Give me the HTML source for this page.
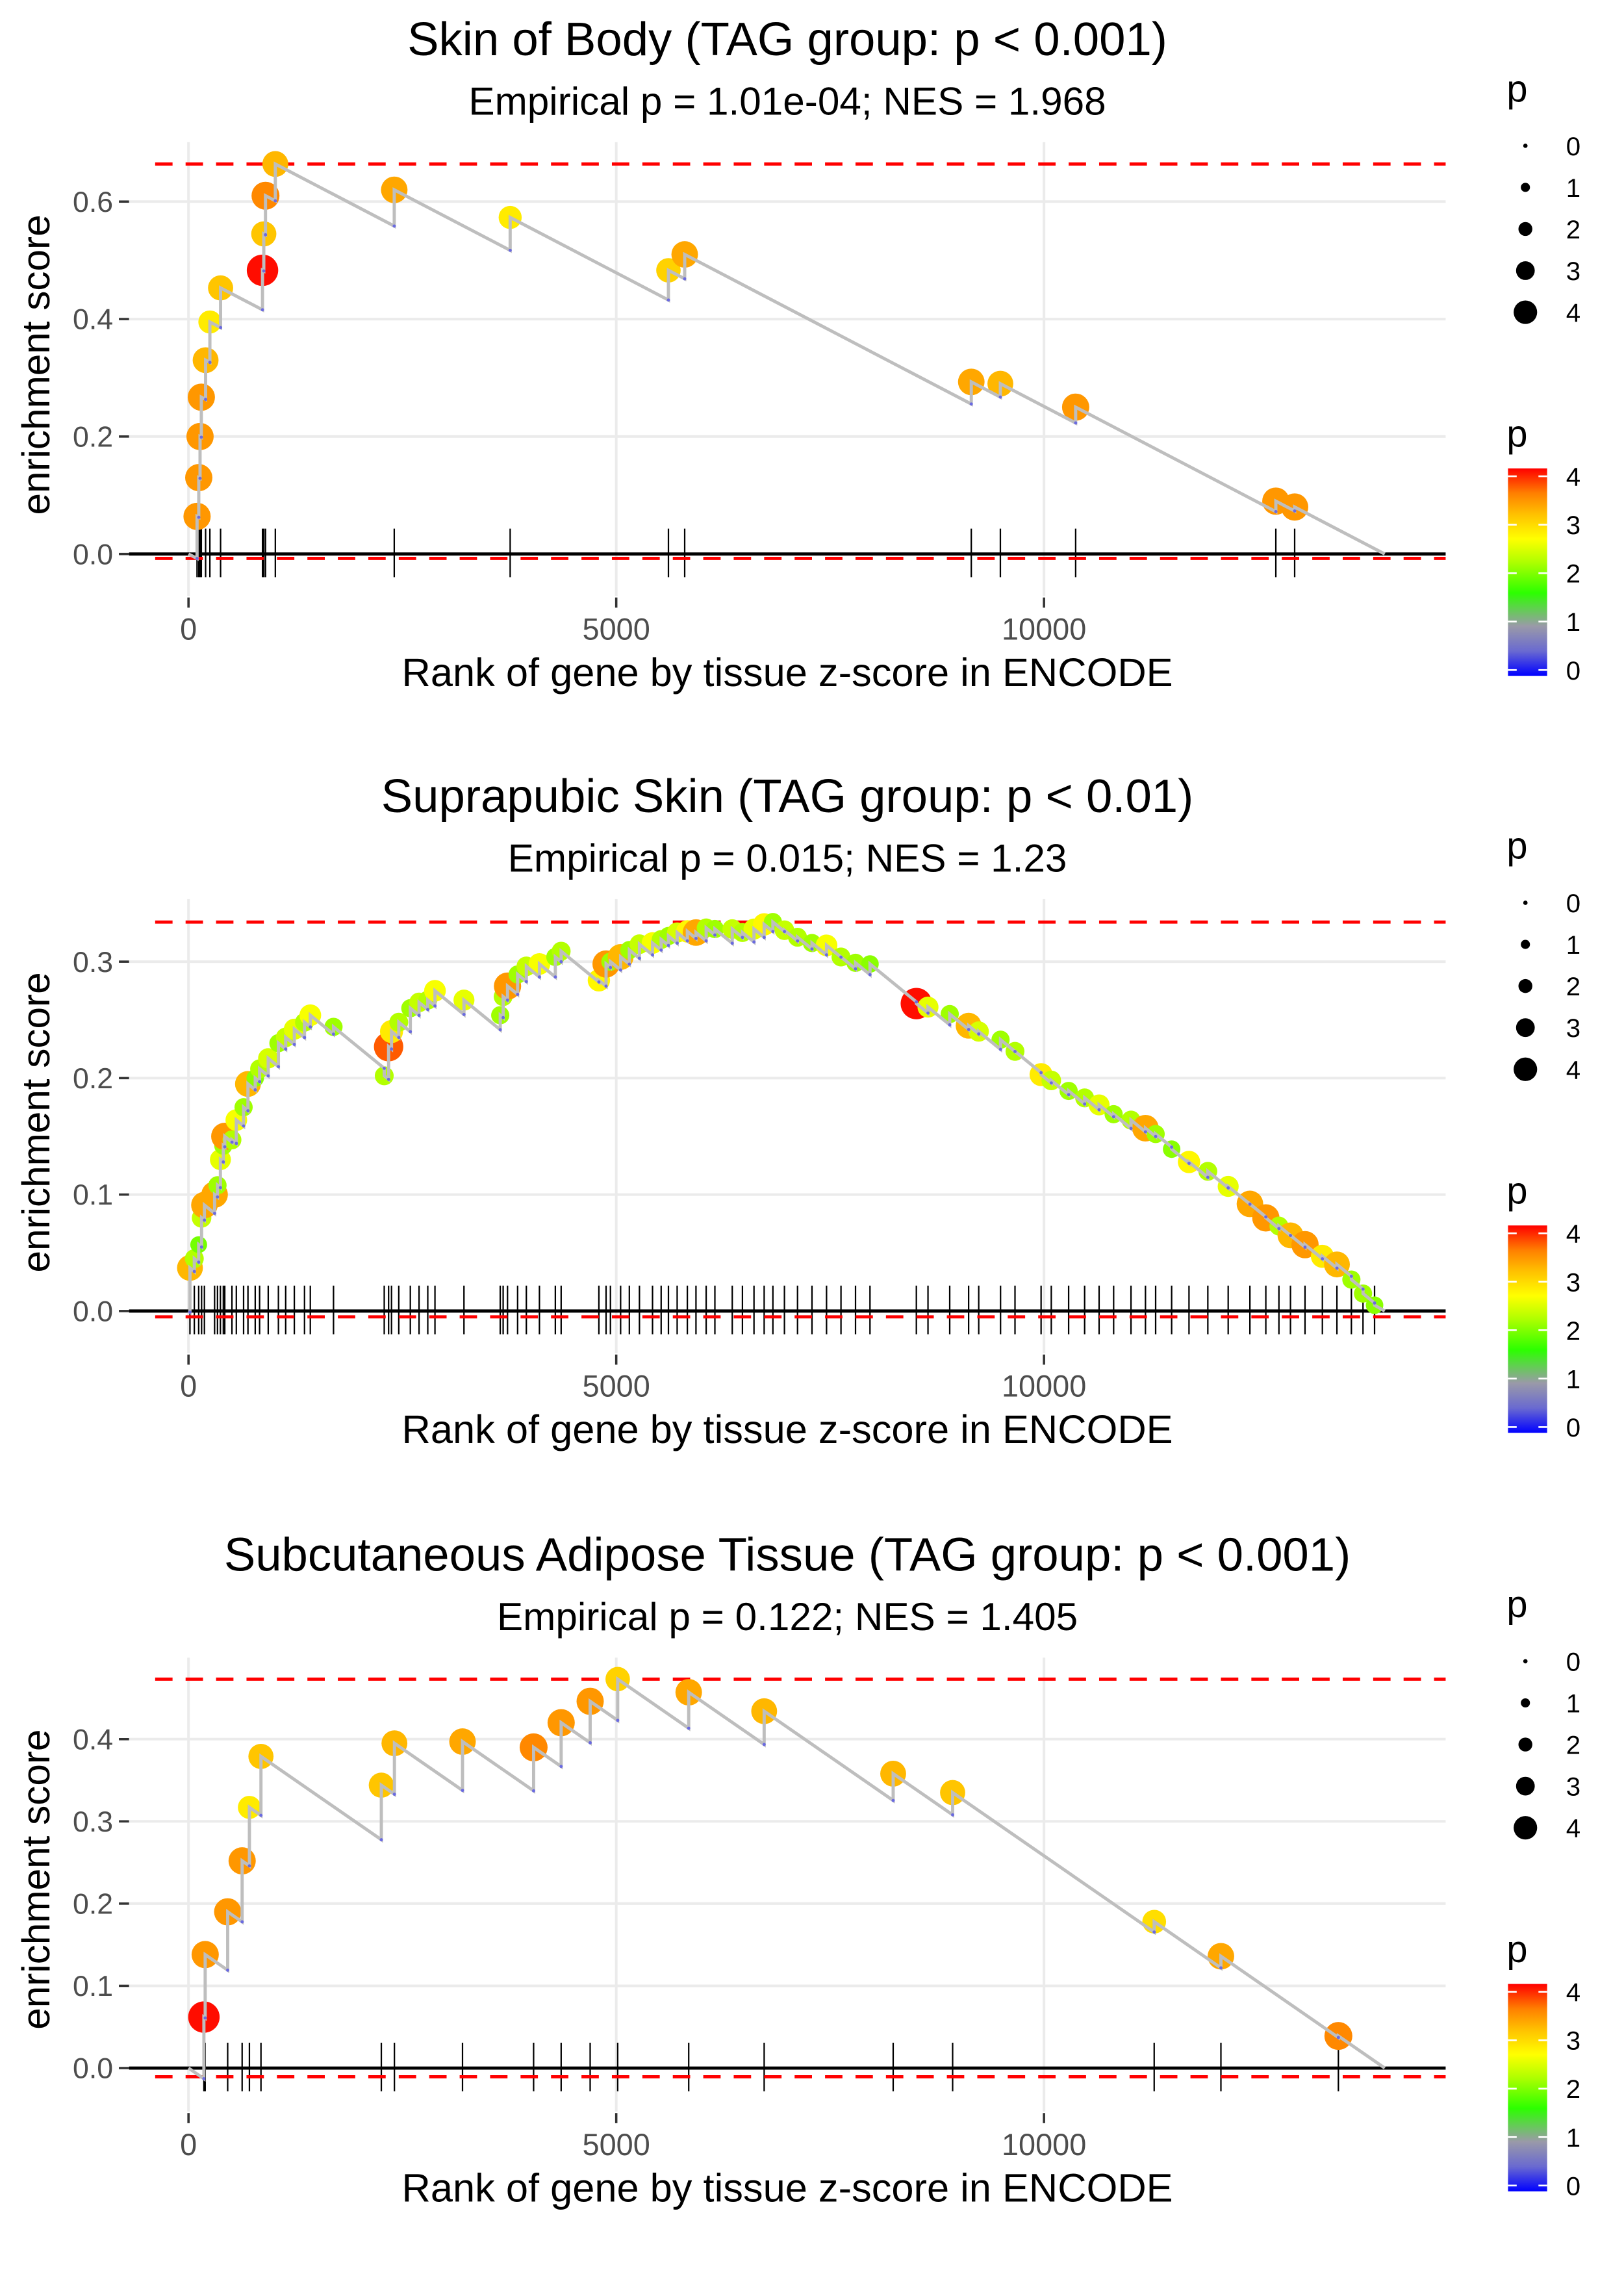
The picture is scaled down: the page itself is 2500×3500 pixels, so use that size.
<!DOCTYPE html>
<html><head><meta charset="utf-8">
<style>
html,body{margin:0;padding:0;background:#fff;}
svg{display:block;font-family:"Liberation Sans",Arial,sans-serif;}
</style></head>
<body>
<svg id="chart" width="2500" height="3500" viewBox="0 0 1120 1568" preserveAspectRatio="none" xmlns="http://www.w3.org/2000/svg">
<defs>
<linearGradient id="pgrad" x1="0" y1="1" x2="0" y2="0">
<stop offset="0" stop-color="#0000ff"/>
<stop offset="0.12" stop-color="#6a6ad0"/>
<stop offset="0.24" stop-color="#9a9aa8"/>
<stop offset="0.4" stop-color="#2cff00"/>
<stop offset="0.55" stop-color="#b0ff00"/>
<stop offset="0.66" stop-color="#ffff00"/>
<stop offset="0.78" stop-color="#ffc000"/>
<stop offset="0.88" stop-color="#ff8000"/>
<stop offset="1" stop-color="#ff0000"/>
</linearGradient>
</defs>
</svg>
<script>
// ---- Panel 1: Skin of Body ----
const p1Ranks = [100,120,135,150,200,250,375,865,880,900,1015,2405,3760,5610,5800,9150,9490,10370,12710,12930];
const p1ES    = [0.064,0.13,0.2,0.267,0.33,0.395,0.453,0.483,0.545,0.61,0.664,0.62,0.573,0.483,0.51,0.293,0.29,0.25,0.09,0.08];
const p1P     = [3.5,3.5,3.5,3.5,3.3,2.9,3.2,4.1,3.2,3.6,3.3,3.4,2.9,3.1,3.4,3.4,3.3,3.5,3.5,3.5];
// ---- Panel 2: Suprapubic Skin ----
const p2Ranks = [17,68,119,153,186,305,339,373,407,424,508,559,644,695,780,831,932,1051,1136,1237,1356,1424,1695,2288,2339,2373,2458,2593,2695,2797,2881,3220,3644,3678,3729,3847,3949,4102,4288,4356,4797,4881,4932,5051,5153,5271,5424,5525,5610,5712,5831,5932,6051,6153,6356,6475,6610,6729,6831,6966,7119,7288,7458,7627,7797,7966,8508,8644,8898,9119,9237,9492,9661,9966,10085,10288,10475,10644,10814,11017,11186,11305,11492,11695,11915,12153,12407,12593,12746,12881,13051,13254,13424,13593,13729,13864];
const p2ES    = [0.037,0.045,0.057,0.08,0.091,0.1,0.108,0.13,0.142,0.15,0.147,0.164,0.175,0.195,0.2,0.208,0.217,0.23,0.235,0.242,0.248,0.254,0.244,0.202,0.227,0.24,0.248,0.26,0.265,0.267,0.275,0.267,0.254,0.27,0.279,0.289,0.296,0.298,0.304,0.309,0.284,0.298,0.3,0.304,0.31,0.315,0.316,0.319,0.322,0.325,0.326,0.325,0.329,0.328,0.328,0.325,0.328,0.332,0.334,0.327,0.321,0.316,0.314,0.304,0.299,0.298,0.264,0.261,0.255,0.245,0.24,0.233,0.223,0.203,0.198,0.189,0.183,0.177,0.169,0.164,0.157,0.152,0.139,0.128,0.12,0.107,0.092,0.08,0.073,0.065,0.057,0.047,0.04,0.027,0.015,0.005];
const p2P     = [3.3,2.3,2.0,2.4,3.4,3.4,2.2,2.6,2.2,3.5,2.3,2.7,2.2,3.3,2.1,2.3,2.5,2.2,2.4,2.6,2.3,2.7,2.2,2.3,3.8,2.9,2.3,2.2,2.4,2.3,2.7,2.6,2.2,2.3,3.5,2.2,2.4,2.7,2.2,2.3,2.8,3.5,2.2,3.3,2.2,2.4,2.7,2.3,2.2,2.5,2.8,3.4,2.3,2.2,2.4,2.3,2.6,2.8,2.2,2.4,2.3,2.2,2.7,2.3,2.2,2.1,4.1,2.6,2.2,3.3,2.5,2.2,2.3,2.9,2.4,2.2,2.3,2.6,2.2,2.3,3.4,2.2,2.1,2.8,2.3,2.6,3.4,3.5,2.3,3.3,3.5,2.9,3.3,2.2,2.2,2.1];
// ---- Panel 3: Subcutaneous Adipose Tissue ----
const p3Ranks = [180,195,458,627,712,847,2254,2407,3203,4034,4356,4695,5017,5847,6729,8237,8932,11288,12068,13441];
const p3ES    = [0.062,0.138,0.19,0.252,0.317,0.379,0.344,0.395,0.397,0.39,0.42,0.446,0.473,0.457,0.434,0.358,0.335,0.178,0.136,0.039];
const p3P     = [4.1,3.5,3.5,3.5,2.9,3.2,3.2,3.3,3.4,3.6,3.5,3.5,3.1,3.4,3.3,3.3,3.2,3.0,3.4,3.6];
const endRank = 13983;
const xTicks = [0,5000,10000];
const sizeLegendValues = [0,1,2,3,4];
const colorLegendValues = [0,1,2,3,4];

const NS = "http://www.w3.org/2000/svg";
const svg = document.getElementById('chart');
function mk(tag, attrs, parent){
  const e = document.createElementNS(NS, tag);
  for (const k in attrs) e.setAttribute(k, attrs[k]);
  (parent||svg).appendChild(e);
  return e;
}
function txt(s, attrs, parent){ const e = mk('text', attrs, parent); e.textContent = s; return e; }

const stops = [[0,[0,0,255]],[0.5,[106,106,208]],[1,[154,154,168]],[1.66,[44,255,0]],[2.28,[176,255,0]],[2.74,[255,255,0]],[3.24,[255,192,0]],[3.65,[255,128,0]],[4.15,[255,0,0]]];
function pColor(p){
  if (p <= stops[0][0]) return 'rgb(0,0,255)';
  for (let i=1;i<stops.length;i++){
    if (p <= stops[i][0]){
      const a=stops[i-1], b=stops[i], t=(p-a[0])/(b[0]-a[0]);
      const c=a[1].map((v,j)=>Math.round(v+(b[1][j]-v)*t));
      return 'rgb('+c.join(',')+')';
    }
  }
  return 'rgb(255,0,0)';
}
function pRadius(p){ return 1 + 2.4*p; }

const X0 = 130, XS = 0.059;
function xScale(r){ return X0 + XS*r; }

const panels = [
  {key:'skin-of-body', off:0, y0:382, ys:405, ticks:[0,0.2,0.4,0.6], ranks:p1Ranks, es:p1ES, p:p1P, d:7.6e-5, minES:-0.0075,
   title:'Skin of Body (TAG group: p < 0.001)', sub:'Empirical p = 1.01e-04; NES = 1.968'},
  {key:'suprapubic-skin', off:522, y0:904, ys:803, ticks:[0,0.1,0.2,0.3], ranks:p2Ranks, es:p2ES, p:p2P, d:6e-5, minES:-0.005,
   title:'Suprapubic Skin (TAG group: p < 0.01)', sub:'Empirical p = 0.015; NES = 1.23'},
  {key:'subcutaneous-adipose', off:1045, y0:1426, ys:567, ticks:[0,0.1,0.2,0.3,0.4], ranks:p3Ranks, es:p3ES, p:p3P, d:7.2e-5, minES:-0.0106,
   title:'Subcutaneous Adipose Tissue (TAG group: p < 0.001)', sub:'Empirical p = 0.122; NES = 1.405'}
];

panels.forEach(P=>{
  const g = mk('g', {});
  
  
  const o = P.off;
  const yS = v => P.y0 - P.ys*v;
  const t = txt(P.title, {x:543, y:38+o, 'text-anchor':'middle', 'font-size':'32.5', fill:'#000'}, g);
  
  
  const s = txt(P.sub, {x:543, y:79+o, 'text-anchor':'middle', 'font-size':'27', fill:'#000'}, g);
  
  
  const top = 98+o, bot = 411+o;
  P.ticks.forEach(v=>{
    const l = mk('line',{x1:89,x2:997,y1:yS(v),y2:yS(v),stroke:'#ebebeb','stroke-width':1.8},g);
    
    
    mk('line',{x1:82,x2:89,y1:yS(v),y2:yS(v),stroke:'#333','stroke-width':1.6},g);
    const lb = txt(v.toFixed(1), {x:78, y:yS(v)+7, 'text-anchor':'end', 'font-size':'20', fill:'#4d4d4d'}, g);
    
    
  });
  xTicks.forEach(v=>{
    const l = mk('line',{x1:xScale(v),x2:xScale(v),y1:top,y2:bot,stroke:'#ebebeb','stroke-width':1.8},g);
    
    
    mk('line',{x1:xScale(v),x2:xScale(v),y1:bot+1,y2:bot+8,stroke:'#333','stroke-width':1.6},g);
    const lb = txt(String(v), {x:xScale(v), y:441+o, 'text-anchor':'middle', 'font-size':'21', fill:'#4d4d4d'}, g);
    
    
  });
  P.ranks.forEach(r=>{
    const l = mk('line',{x1:xScale(r),x2:xScale(r),y1:P.y0-17.5,y2:P.y0+16,stroke:'#000','stroke-width':1},g);
    
    
  });
  const zl = mk('line',{x1:89,x2:997,y1:P.y0,y2:P.y0,stroke:'#000','stroke-width':2.2},g);
  
  
  const maxES = Math.max(...P.es);
  [maxES, P.minES].forEach((v,i)=>{
    const l = mk('line',{x1:107,x2:997,y1:yS(v),y2:yS(v),stroke:'#ff0000','stroke-width':2.2,'stroke-dasharray':'12,9'},g);
    
    
  });
  let d = 'M'+xScale(0)+','+yS(0);
  let prevR = 0, prevE = 0;
  const pre = [];
  P.ranks.forEach((r,i)=>{
    const pv = prevE - P.d*(r-prevR);
    pre.push(pv);
    d += ' L'+xScale(r)+','+yS(pv)+' L'+xScale(r)+','+yS(P.es[i]);
    prevR = r; prevE = P.es[i];
  });
  d += ' L'+xScale(endRank)+','+yS(0);
  P.ranks.forEach((r,i)=>{
    const c = mk('circle',{cx:xScale(r),cy:yS(P.es[i]),r:pRadius(P.p[i]),fill:pColor(P.p[i])},g);
    
    
  });
  const path = mk('path',{d:d,fill:'none',stroke:'#bebebe','stroke-width':2.2},g);
  
  
  P.ranks.forEach((r,i)=>{
    const c = mk('circle',{cx:xScale(r),cy:yS(pre[i]),r:1.1,fill:'#6a6ae0'},g);
    
    
  });
  const yt = txt('enrichment score', {x:0,y:0,'text-anchor':'middle','font-size':'27',fill:'#000',transform:'translate(34,'+(P.y0-P.ys*maxES/2+4)+') rotate(-90)'}, g);
  
  
  const xt = txt('Rank of gene by tissue z-score in ENCODE', {x:543,y:473+o,'text-anchor':'middle','font-size':'27.5',fill:'#000'}, g);
  
  
  const lg = mk('g',{},g);
  
  
  txt('p', {x:1039,y:70+o,'font-size':'26',fill:'#000'}, lg);
  sizeLegendValues.forEach((v,i)=>{
    const cy = 100.5+o+i*28.7;
    const c = mk('circle',{cx:1052,cy:cy,r:1.5+1.65*v,fill:'#000'},lg);
    
    
    const lb = txt(String(v),{x:1085,y:cy+6.5,'text-anchor':'middle','font-size':'18',fill:'#000'},lg);
    
    
  });
  const cg = mk('g',{},g);
  
  
  txt('p', {x:1039,y:308+o,'font-size':'26',fill:'#000'}, cg);
  const bar = mk('rect',{x:1040,y:323+o,width:27,height:143,fill:'url(#pgrad)'},cg);
  
  
  colorLegendValues.forEach(v=>{
    const cy = 462+o - v*33.4;
    mk('line',{x1:1040,x2:1046,y1:cy,y2:cy,stroke:'#fff','stroke-width':1.2},cg);
    mk('line',{x1:1061,x2:1067,y1:cy,y2:cy,stroke:'#fff','stroke-width':1.2},cg);
    const lb = txt(String(v),{x:1085,y:cy+6.5,'text-anchor':'middle','font-size':'18',fill:'#000'},cg);
    
    
  });
});
</script>
</body></html>
